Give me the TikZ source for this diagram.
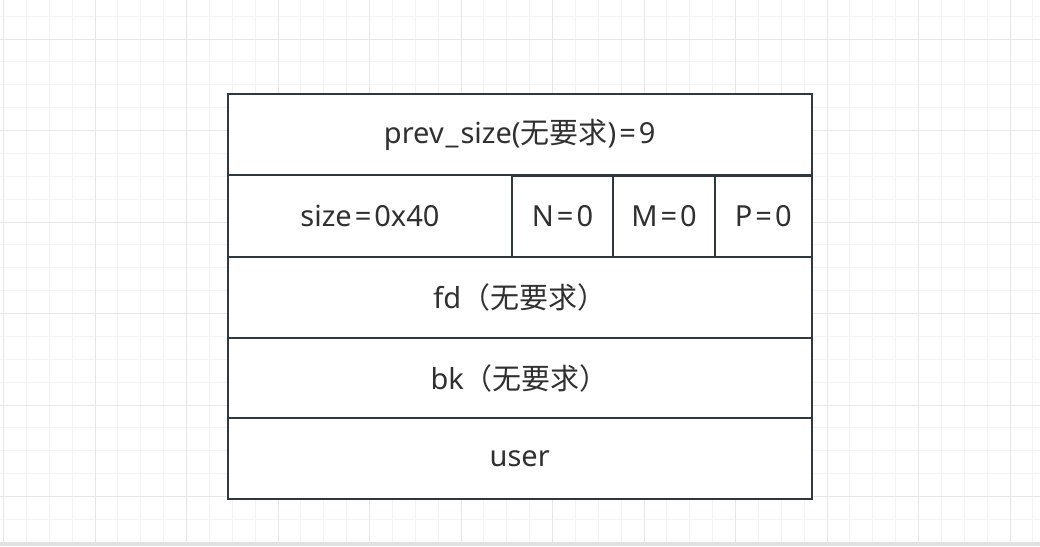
\documentclass[tikz,border=0pt]{standalone}
\usepackage{fontspec}
\setmainfont{Noto Sans}
\newfontfamily\cjk{Noto Sans CJK SC}
\definecolor{linec}{HTML}{2F383E}
\definecolor{textc}{HTML}{303030}
\definecolor{gridminor}{HTML}{F3F3F3}
\definecolor{gridmajor}{HTML}{E6E6E6}
\definecolor{bandc}{HTML}{E2E2E2}
\newcommand{\eqs}{\kern3pt=\kern3pt}
\begin{document}
\begin{tikzpicture}[x=1pt,y=-1pt,
  cell/.style={draw=linec, line width=2pt, fill=white, inner sep=0pt, text=textc,
    font=\fontsize{29}{33}\selectfont, anchor=north west},
  minorline/.style={draw=gridminor, line width=1pt},
  majorline/.style={draw=gridmajor, line width=1pt}]
\useasboundingbox (0,0) rectangle (1040,546);
\fill[white] (0,0) rectangle (1040,546);
% grid
\foreach \i in {0,...,46} {
  \pgfmathsetmacro{\gx}{3.5+22.875*\i}
  \draw[minorline] (\gx,0) -- (\gx,542);
}
\foreach \i in {-1,...,22} {
  \pgfmathsetmacro{\gy}{39+22.875*\i}
  \draw[minorline] (0,\gy) -- (1040,\gy);
}
\foreach \i in {0,...,11} {
  \pgfmathsetmacro{\gx}{3.5+91.5*\i}
  \draw[majorline] (\gx,0) -- (\gx,542);
}
\foreach \i in {0,...,5} {
  \pgfmathsetmacro{\gy}{39+91.5*\i}
  \draw[majorline] (0,\gy) -- (1040,\gy);
}
\fill[bandc] (0,541.7) rectangle (1040,546);
% structure
\node[cell, minimum width=583.5pt, minimum height=81pt] (prev) at (227,93)
  {prev\kern2pt\_\kern2pt size({\cjk 无要求})\eqs 9};
\node[cell, minimum width=284pt, minimum height=82pt] (size) at (227,174)
  {size\eqs 0x40};
\node[cell, minimum width=101pt, minimum height=81pt] (nbit) at (511,175) {N\eqs 0};
\node[cell, minimum width=102pt, minimum height=81pt] (mbit) at (612,175) {M\eqs 0};
\node[cell, minimum width=96.5pt, minimum height=81pt] (pbit) at (714,175) {P\eqs 0};
\node[cell, minimum width=583.5pt, minimum height=81pt] (fd) at (227,256)
  {fd{\cjk （无要求）}};
\node[cell, minimum width=583.5pt, minimum height=80pt] (bk) at (227,337)
  {bk{\cjk （无要求）}};
\node[cell, minimum width=583.5pt, minimum height=81pt] (user) at (227,417)
  {user};
\end{tikzpicture}
\end{document}
